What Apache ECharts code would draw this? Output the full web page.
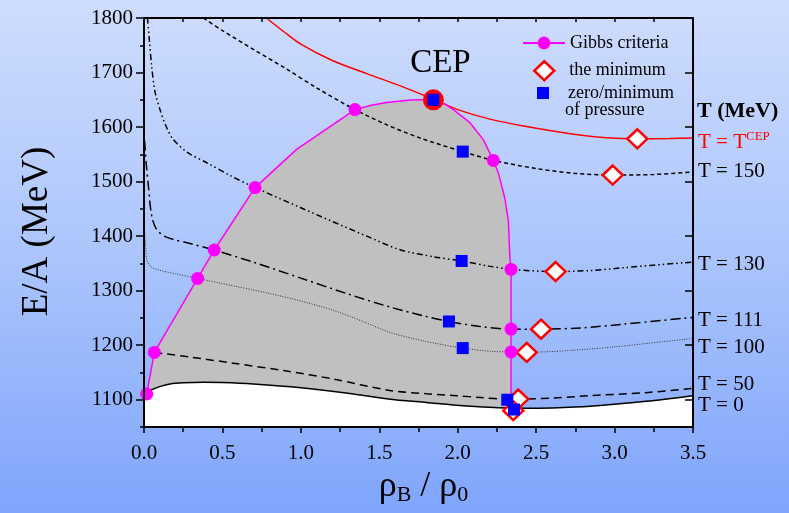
<!DOCTYPE html>
<html>
<head>
<meta charset="utf-8">
<script src="https://cdn.jsdelivr.net/npm/echarts@6/dist/echarts.min.js"></script>
<style>
  html, body { margin: 0; padding: 0; }
  #chart { width: 789px; height: 513px; }
</style>
</head>
<body>
<div id="chart"></div>
<script>
// Energy per baryon E/A (MeV) versus reduced baryon density rho_B / rho_0
// at several temperatures, with the Gibbs-criteria boundary of the mixed phase.

const xTicks = [0, 0.5, 1.0, 1.5, 2.0, 2.5, 3.0, 3.5];
const yTicks = [1100, 1200, 1300, 1400, 1500, 1600, 1700, 1800];

// isotherms: [rho_B/rho_0, E/A]
const curveTCEP = [[0.78,1800],[0.9,1773],[1.0,1752],[1.2,1722],[1.42,1698],[1.63,1676],[1.845,1651],[2.0,1632],[2.2,1615],[2.42,1602],[2.74,1587],[2.95,1580.5],[3.145,1578.5],[3.35,1579],[3.5,1580]];
const curveT150 = [[0.378,1800],[0.5,1777],[0.7,1742],[0.9,1708],[1.1,1672],[1.345,1632],[1.55,1604],[1.76,1580],[2.032,1555],[2.233,1538.5],[2.5,1524],[2.75,1515],[2.988,1512],[3.25,1513],[3.5,1517.5]];
const curveT130 = [[0.022,1800],[0.035,1757],[0.049,1711],[0.07,1665],[0.102,1632],[0.14,1602],[0.187,1577],[0.28,1553],[0.4,1534.6],[0.55,1511],[0.708,1489],[1.0,1452],[1.2,1427],[1.42,1400],[1.632,1375],[1.85,1362],[2.025,1354.5],[2.2,1345],[2.344,1339],[2.624,1335],[2.85,1337],[3.056,1342],[3.5,1352.6]];
const curveT111 = [[0.004,1575],[0.015,1530],[0.028,1492],[0.049,1437],[0.08,1412.5],[0.13,1400],[0.187,1394],[0.3,1386],[0.448,1374.6],[0.7,1352],[1.0,1323],[1.3,1294],[1.568,1270],[1.78,1254],[1.944,1243.5],[2.15,1234],[2.333,1229.5],[2.531,1229.4],[2.8,1232],[3.056,1238.6],[3.5,1251]];
const curveT100 = [[0.003,1410],[0.01,1385],[0.017,1357],[0.04,1345],[0.08,1339],[0.2,1331],[0.342,1322.5],[0.5,1313],[0.782,1296],[1.0,1281],[1.207,1264],[1.4,1243],[1.568,1223.5],[1.78,1208],[2.032,1194.7],[2.2,1189],[2.34,1187.5],[2.44,1187],[2.7,1190],[3.0,1197],[3.5,1212.4]];
const curveT50 = [[0.066,1186.8],[0.3,1178],[0.569,1167],[0.9,1153],[1.207,1138],[1.568,1117],[1.8,1111],[1.993,1107.4],[2.15,1104],[2.316,1101],[2.386,1101],[2.6,1103],[2.843,1107.4],[3.2,1113],[3.5,1121]];
const curveT0 = [[0.005,1105],[0.02,1113],[0.049,1118.3],[0.1,1124],[0.166,1128.8],[0.25,1131],[0.378,1132],[0.5,1131.5],[0.697,1128.8],[1.0,1122],[1.3,1112],[1.6,1100],[1.8,1095],[1.993,1090],[2.2,1086],[2.418,1084.3],[2.6,1085],[2.843,1088],[3.2,1097],[3.5,1107.4]];

// boundary of the mixed-phase region (Gibbs criteria)
const gibbsBoundary = [[0.017,1110.5],[0.066,1186.8],[0.342,1322.5],[0.448,1374.6],[0.708,1489],[0.973,1559],[1.345,1632],[1.45,1640],[1.547,1645],[1.7,1649.5],[1.845,1650.5],[1.92,1642],[1.972,1632],[2.078,1608],[2.163,1577],[2.227,1538.8],[2.26,1515],[2.3,1470],[2.323,1427.7],[2.333,1357.6],[2.34,1339],[2.34,1229.5],[2.34,1187.5],[2.34,1100],[2.345,1085]];
const gibbsPoints = [[0.017,1110.5],[0.066,1186.8],[0.342,1322.5],[0.448,1374.6],[0.708,1489],[1.345,1632],[2.227,1538.8],[2.34,1339],[2.34,1229.5],[2.34,1187.5]];
const minimumPoints = [[3.145,1578.5],[2.988,1512],[2.624,1335],[2.531,1229.4],[2.44,1186.8],[2.386,1101.3],[2.354,1080]];
const pressurePoints = [[1.845,1650],[2.032,1555],[2.025,1354.5],[1.944,1243.5],[2.032,1194.7],[2.316,1100],[2.359,1082]];
const cepPoint = [[1.845,1650]];

const FONT = 'Liberation Serif';

function isotherm(name, data, color, width, type, labelText, labelOffset, rich) {
  return {
    name: name, type: 'line', data: data, z: 2,
    symbol: 'none', smooth: 0.3, silent: true,
    lineStyle: { color: color, width: width, type: type },
    endLabel: {
      show: true, formatter: labelText, offset: labelOffset, distance: 5,
      color: color === '#ff0000' ? '#ff0000' : '#000', fontFamily: FONT, fontSize: 21,
      rich: rich
    }
  };
}

// legend entry text, shifted right so all entries start at the same column
function legendText(pad) {
  return {
    fontFamily: FONT, fontSize: 18, color: '#000',
    rich: { t: { fontFamily: FONT, fontSize: 18, color: '#000', padding: [0, 0, 0, pad] } }
  };
}

const chart = echarts.init(document.getElementById('chart'), null, { renderer: 'canvas' });

chart.setOption({
  animation: false,
  textStyle: { fontFamily: FONT },
  backgroundColor: {
    type: 'linear', x: 0, y: 0, x2: 0, y2: 1,
    colorStops: [{ offset: 0, color: '#cfddfd' }, { offset: 0.5, color: '#abc5fc' }, { offset: 1, color: '#7fa5fb' }]
  },
  grid: { left: 144, right: 96, top: 18, bottom: 86 },
  legend: [
    {
      data: ['Gibbs criteria'], left: 522, top: 34, orient: 'vertical', padding: 0,
      itemWidth: 42, itemHeight: 16, itemGap: 0,
      textStyle: { fontFamily: FONT, fontSize: 18, color: '#000' }
    },
    {
      data: ['the minimum'], left: 533, top: 60, orient: 'vertical', padding: 0,
      itemWidth: 20, itemHeight: 19, itemGap: 0,
      formatter: n => '{t|' + n + '}',
      itemStyle: { borderWidth: 2.5, borderColor: '#ff0000', color: '#ffffff' },
      textStyle: legendText(10)
    },
    {
      data: ['zero/minimum'], left: 537, top: 84, orient: 'vertical', padding: 0,
      itemWidth: 12, itemHeight: 12, itemGap: 0,
      formatter: n => '{t|' + n + '}',
      textStyle: legendText(14)
    }
  ],
  graphic: [
    { type: 'text', left: 565, top: 101, style: { text: 'of pressure', font: '18px "Liberation Serif"', fill: '#000' } },
    { type: 'text', left: 697, top: 100, style: { text: 'T (MeV)', font: 'bold 22px "Liberation Serif"', fill: '#000' } }
  ],
  xAxis: [
    {
      type: 'value', position: 'bottom', min: 0, max: 3.5, interval: 0.5, z: 10,
      name: '{r|ρ}{s|B}{r| / ρ}{s|0}', nameLocation: 'middle', nameGap: 35,
      nameTextStyle: {
        fontFamily: FONT, fontSize: 36, color: '#000', padding: [0, 0, 0, 10],
        rich: {
          r: { fontFamily: FONT, fontSize: 36, color: '#000' },
          s: { fontFamily: FONT, fontSize: 22, color: '#000', padding: [16, 0, 0, 0] }
        }
      },
      axisLine: { show: true, onZero: false, lineStyle: { color: '#000', width: 2 } },
      axisTick: { show: true, inside: false, length: 6, lineStyle: { color: '#000', width: 1.5 } },
      minorTick: { show: true, splitNumber: 2, length: 5, lineStyle: { color: '#000', width: 1.5 } },
      splitLine: { show: false }, minorSplitLine: { show: false },
      axisLabel: { formatter: v => v.toFixed(1), fontFamily: FONT, fontSize: 21, color: '#000', margin: 16 }
    },
    {
      type: 'value', position: 'top', min: 0, max: 3.5, interval: 0.25, z: 10,
      axisLine: { show: true, onZero: false, lineStyle: { color: '#000', width: 2 } },
      axisTick: { show: true, inside: true, length: 4, lineStyle: { color: '#000', width: 1.5 } },
      splitLine: { show: false }, axisLabel: { show: false }
    }
  ],
  yAxis: [
    {
      type: 'value', position: 'left', min: 1050, max: 1800, interval: 50, z: 10,
      name: 'E/A (MeV)', nameLocation: 'middle', nameGap: 88,
      nameTextStyle: { fontFamily: FONT, fontSize: 37, color: '#000', padding: [0, 18, 0, 0] },
      axisLine: { show: true, onZero: false, lineStyle: { color: '#000', width: 2 } },
      axisTick: { show: true, inside: false, length: 8, customValues: yTicks, lineStyle: { color: '#000', width: 1.5 } },
      splitLine: { show: false },
      axisLabel: { customValues: yTicks, formatter: v => String(v), fontFamily: FONT, fontSize: 21, color: '#000', margin: 11 }
    },
    {
      type: 'value', position: 'left', min: 1050, max: 1800, interval: 50, z: 10,
      axisLine: { show: false },
      axisTick: { show: true, inside: false, length: 4, lineStyle: { color: '#000', width: 1.5 } },
      splitLine: { show: false }, axisLabel: { show: false }
    },
    {
      type: 'value', position: 'right', min: 1050, max: 1800, interval: 50, z: 10,
      axisLine: { show: true, onZero: false, lineStyle: { color: '#000', width: 2 } },
      axisTick: { show: true, inside: true, length: 8, customValues: yTicks, lineStyle: { color: '#000', width: 1.5 } },
      splitLine: { show: false }, axisLabel: { show: false }
    },
    {
      type: 'value', position: 'right', min: 1050, max: 1800, interval: 50, z: 10,
      axisLine: { show: false },
      axisTick: { show: true, inside: true, length: 4, lineStyle: { color: '#000', width: 1.5 } },
      splitLine: { show: false }, axisLabel: { show: false }
    }
  ],
  series: [
    // shaded mixed-phase region
    {
      name: 'mixed phase', type: 'line', data: gibbsBoundary, z: 1, symbol: 'none', silent: true,
      lineStyle: { width: 0 }, areaStyle: { color: '#c0c0c0', opacity: 1 }
    },
    // region below the T = 0 isotherm
    {
      name: 'below T0', type: 'line', data: curveT0, z: 1, symbol: 'none', smooth: 0.3, silent: true,
      lineStyle: { width: 0 }, areaStyle: { color: '#ffffff', opacity: 1 }
    },
    isotherm('T = TCEP', curveTCEP, '#ff0000', 1.5, 'solid', '{a|T = T}{b|CEP}', [0, 5], {
      a: { color: '#ff0000', fontFamily: FONT, fontSize: 21 },
      b: { color: '#ff0000', fontFamily: FONT, fontSize: 13, padding: [0, 0, 12, 0] }
    }),
    isotherm('T = 150', curveT150, '#000', 1.5, [4, 3], 'T = 150', [0, -1]),
    isotherm('T = 130', curveT130, '#000', 1.5, [6, 3, 1.5, 3, 1.5, 3], 'T = 130', [0, 3]),
    isotherm('T = 111', curveT111, '#000', 1.5, [10, 4, 2, 4], 'T = 111', [0, 3]),
    isotherm('T = 100', curveT100, '#333', 1, [1, 1.5], 'T = 100', [0, 9]),
    isotherm('T = 50', curveT50, '#000', 1.5, [8, 5], 'T = 50', [0, -4]),
    isotherm('T = 0', curveT0, '#000', 1.5, 'solid', 'T = 0', [0, 10]),
    {
      name: 'Gibbs criteria', type: 'line', data: gibbsBoundary, z: 3,
      symbol: 'circle', showSymbol: false, silent: true,
      lineStyle: { color: '#ff00ff', width: 1.5 },
      itemStyle: { color: '#ff00ff' }
    },
    {
      name: 'the minimum', type: 'scatter', data: minimumPoints, z: 4,
      symbol: 'diamond', symbolSize: [20, 19], silent: true,
      itemStyle: { color: '#ffffff', borderColor: '#ff0000', borderWidth: 2.5, opacity: 1 }
    },
    {
      name: 'gibbs points', type: 'scatter', data: gibbsPoints, z: 5,
      symbol: 'circle', symbolSize: 13, silent: true,
      itemStyle: { color: '#ff00ff', opacity: 1 }
    },
    {
      name: 'CEP', type: 'scatter', data: cepPoint, z: 6,
      symbol: 'circle', symbolSize: 21, silent: true,
      itemStyle: { color: '#ff0000', opacity: 1 },
      label: {
        show: true, position: 'top', distance: 9, offset: [7, 0], formatter: 'CEP',
        fontFamily: FONT, fontSize: 33, color: '#000'
      }
    },
    {
      name: 'zero/minimum', type: 'scatter', data: pressurePoints, z: 7,
      symbol: 'rect', symbolSize: 12, silent: true,
      itemStyle: { color: '#0000ff', opacity: 1 }
    }
  ]
});
</script>
</body>
</html>
